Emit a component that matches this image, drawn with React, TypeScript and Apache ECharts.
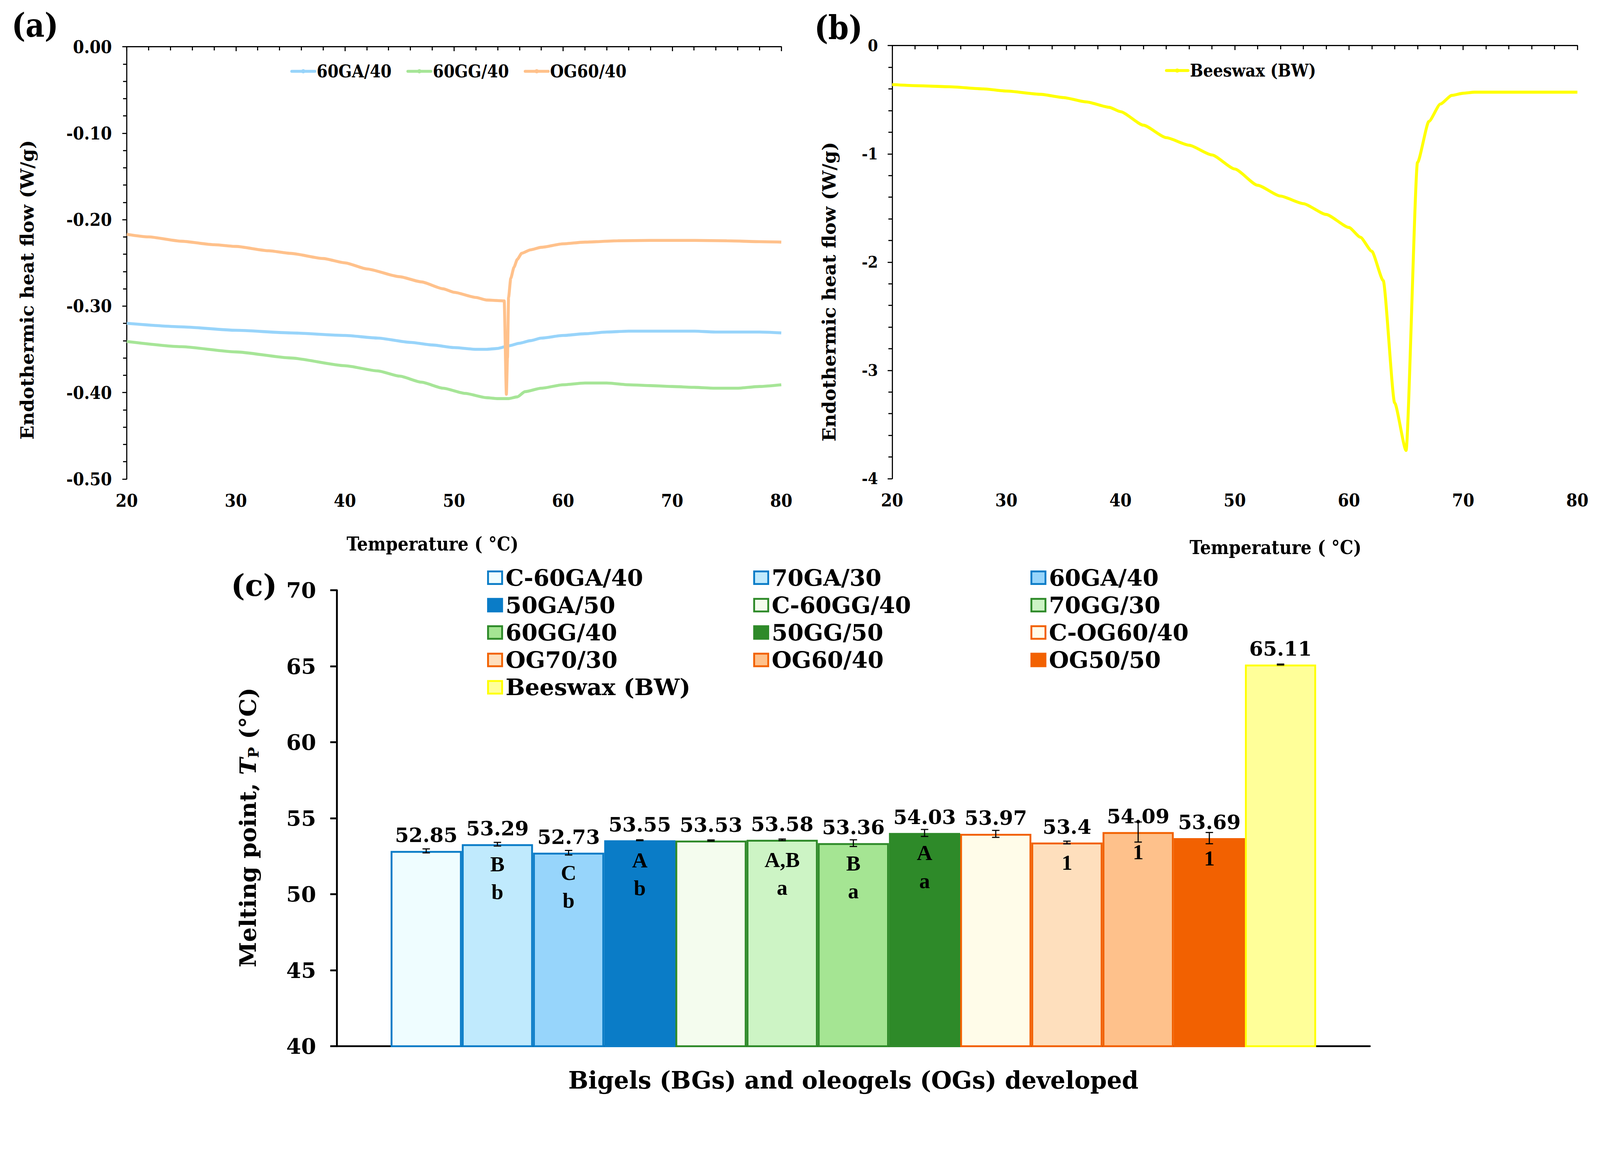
import React, { useEffect, useRef, useState } from 'react';
import * as echarts from 'echarts';

// ---------- Panel (a): DSC curves ----------
const tempGA = [20, 25, 30, 35, 40, 43, 46, 48, 50, 52, 53, 54, 55, 56, 57, 58, 60, 62, 64, 66, 70, 72, 74, 78, 80];
const flowGA = [-0.320, -0.324, -0.328, -0.331, -0.334, -0.337, -0.342, -0.345, -0.348, -0.350, -0.350, -0.349, -0.346, -0.343, -0.340, -0.337, -0.334, -0.332, -0.330, -0.329, -0.329, -0.329, -0.330, -0.330, -0.331];

const tempGG = [20, 25, 30, 35, 40, 43, 45, 47, 49, 51, 53, 54, 55, 55.8, 56.5, 58, 60, 62, 64, 66, 68, 70, 72, 74, 76, 78, 80];
const flowGG = [-0.341, -0.347, -0.353, -0.360, -0.369, -0.375, -0.381, -0.388, -0.395, -0.401, -0.406, -0.407, -0.407, -0.405, -0.399, -0.395, -0.391, -0.389, -0.389, -0.391, -0.392, -0.393, -0.394, -0.395, -0.395, -0.393, -0.391];

const tempOG = [20, 22, 25, 28, 30, 33, 35, 38, 40, 42, 45, 47, 49, 50, 52, 53, 54.6, 54.8, 54.9, 55.0, 55.2, 55.5, 55.8, 56.2, 57, 58, 60, 62, 65, 68, 72, 75, 78, 80];
const flowOG = [-0.217, -0.220, -0.225, -0.229, -0.231, -0.236, -0.239, -0.245, -0.250, -0.257, -0.266, -0.272, -0.280, -0.284, -0.290, -0.293, -0.294, -0.402, -0.360, -0.290, -0.268, -0.255, -0.246, -0.239, -0.235, -0.232, -0.228, -0.226, -0.2245, -0.224, -0.224, -0.2245, -0.2255, -0.226];

// ---------- Panel (b): beeswax ----------
const tempBW = [20, 22, 25, 28, 30, 33, 35, 37, 39, 40, 42, 44, 46, 48, 50, 52, 54, 56, 58, 60, 61, 62, 63, 64, 65, 66, 67, 68, 69, 70, 71, 75, 80];
const flowBW = [-0.36, -0.37, -0.38, -0.40, -0.42, -0.45, -0.48, -0.52, -0.57, -0.61, -0.735, -0.85, -0.92, -1.01, -1.14, -1.29, -1.39, -1.46, -1.56, -1.68, -1.77, -1.90, -2.17, -3.30, -3.74, -1.08, -0.70, -0.54, -0.46, -0.44, -0.43, -0.43, -0.43];

// ---------- Panel (c): melting points ----------
const gelNames = ['C-60GA/40', '70GA/30', '60GA/40', '50GA/50', 'C-60GG/40', '70GG/30', '60GG/40', '50GG/50', 'C-OG60/40', 'OG70/30', 'OG60/40', 'OG50/50', 'Beeswax (BW)'];
const meltPoints = [52.85, 53.29, 52.73, 53.55, 53.53, 53.58, 53.36, 54.03, 53.97, 53.4, 54.09, 53.69, 65.11];
const meltErrors = [0.13, 0.12, 0.15, 0.03, 0.04, 0.05, 0.22, 0.23, 0.23, 0.09, 0.66, 0.37, 0.03];
const upperLetters = ['', 'B', 'C', 'A', '', 'A,B', 'B', 'A', '', '1', '1', '1', ''];
const lowerLetters = ['', 'b', 'b', 'b', '', 'a', 'a', 'a', '', '', '', '', ''];

const fillColors = ['#effdff', '#c0eafd', '#97d5fb', '#0a7cc7', '#f4fcee', '#cdf4c5', '#a5e593', '#2e8a29', '#fffce9', '#fedfbd', '#fec18b', '#f26101', '#ffff99'];
const edgeColors = ['#0a7cc7', '#0a7cc7', '#0a7cc7', '#0a7cc7', '#2e8a29', '#2e8a29', '#2e8a29', '#2e8a29', '#f26101', '#f26101', '#f26101', '#f26101', '#ffff00'];

const FONT_WIDE = "'DejaVu Serif', serif";
const FONT_COND = "'DejaVu Serif Condensed', 'DejaVu Serif', serif";
const FONT_TIMES = "'Liberation Serif', serif";

const REF_W = 4317;
const REF_H = 2979;
const CAT_GAP = 0.104;

const zip = (xs: number[], ys: number[]) => xs.map((x, i) => [x, ys[i]]);

function buildOption(k: number) {
  const s = (v: number) => v * k;
  const condText = (size: number) => ({ fontFamily: FONT_COND, fontWeight: 'bold' as const, fontSize: s(size), color: '#000' });
  const wideText = (size: number) => ({ fontFamily: FONT_WIDE, fontWeight: 'bold' as const, fontSize: s(size), color: '#000' });

  const lineAxisCommon = {
    axisLine: { show: true, lineStyle: { color: '#000', width: s(3) } },
    axisTick: { show: true, inside: false, length: s(12), lineStyle: { color: '#000', width: s(3) } },
    minorTick: { show: true, splitNumber: 5, length: s(10), lineStyle: { color: '#000', width: s(3) } },
    splitLine: { show: false },
    minorSplitLine: { show: false },
  };

  const lineSeries = (name: string, xs: number[], ys: number[], color: string, axis: number) => ({
    name,
    type: 'line',
    xAxisIndex: axis,
    yAxisIndex: axis,
    data: zip(xs, ys),
    symbol: 'none',
    showSymbol: false,
    smooth: 0.2,
    smoothMonotone: 'x',
    lineStyle: { color, width: s(8) },
    itemStyle: { color },
    z: 3,
  });

  const barSeries = gelNames.map((name, i) => ({
    name,
    type: 'bar',
    xAxisIndex: 2,
    yAxisIndex: 2,
    data: [meltPoints[i]],
    barGap: '0%',
    barCategoryGap: `${CAT_GAP * 100}%`,
    itemStyle: { color: fillColors[i], borderColor: edgeColors[i], borderWidth: s(5) },
    label: {
      show: true,
      position: 'top',
      distance: s(16),
      formatter: () => String(meltPoints[i]),
      ...wideText(54),
    },
    z: 2,
  }));

  const annotSeries = {
    name: 'annotations',
    type: 'custom',
    xAxisIndex: 2,
    yAxisIndex: 2,
    coordinateSystem: 'cartesian2d',
    clip: false,
    z: 5,
    encode: { x: 0, y: 1 },
    data: meltPoints.map((v, i) => [0, v, meltErrors[i], i]),
    renderItem: (params: any, api: any) => {
      const idx = api.value(3);
      const val = api.value(1);
      const err = api.value(2);
      const band = api.size([1, 0])[0];
      const total = band * (1 - CAT_GAP);
      const bw = total / gelNames.length;
      const c = api.coord([0, val]);
      const x = c[0] - total / 2 + (idx + 0.5) * bw;
      const yTop = api.coord([0, val + err])[1];
      const yBot = api.coord([0, val - err])[1];
      const cap = s(10);
      const stroke = { stroke: '#000', lineWidth: s(3) };
      const children: any[] = [
        { type: 'line', shape: { x1: x, y1: yTop, x2: x, y2: yBot }, style: stroke },
        { type: 'line', shape: { x1: x - cap, y1: yTop, x2: x + cap, y2: yTop }, style: stroke },
        { type: 'line', shape: { x1: x - cap, y1: yBot, x2: x + cap, y2: yBot }, style: stroke },
      ];
      const letterStyle = { align: 'center', verticalAlign: 'middle', fontFamily: FONT_TIMES, fontWeight: 'bold', fontSize: s(58), fill: '#000' };
      const up = upperLetters[idx];
      const low = lowerLetters[idx];
      if (up) {
        children.push({ type: 'text', style: { text: up, x, y: c[1] + s(54), ...letterStyle } });
      }
      if (low) {
        children.push({ type: 'text', style: { text: low, x, y: c[1] + s(129), ...letterStyle } });
      }
      return { type: 'group', children };
    },
  };

  const legendCol = (left: number, idxs: number[]) => ({
    orient: 'vertical',
    left: s(left),
    top: s(1522),
    itemGap: s(11.7),
    itemWidth: s(38),
    itemHeight: s(34),
    icon: 'rect',
    textStyle: { ...wideText(62), lineHeight: s(62), padding: [0, 0, 0, s(4)] },
    data: idxs.map((i) => ({
      name: gelNames[i],
      itemStyle: { color: fillColors[i], borderColor: edgeColors[i], borderWidth: s(5) },
    })),
    selectedMode: false,
  });

  return {
    animation: false,
    backgroundColor: '#ffffff',
    title: [
      { text: '(a)', left: s(26), top: s(20), textStyle: condText(88) },
      { text: '(b)', left: s(2192), top: s(26), textStyle: condText(88) },
      { text: '(c)', left: s(618), top: s(1534), textStyle: wideText(80) },
    ],
    legend: [
      {
        left: s(778),
        top: s(162),
        itemWidth: s(62),
        itemHeight: s(14),
        itemGap: s(40),
        lineStyle: { width: s(8), cap: 'round' },
        textStyle: { ...condText(47), lineHeight: s(50) },
        data: ['60GA/40', '60GG/40', 'OG60/40'],
        selectedMode: false,
      },
      {
        left: s(3138),
        top: s(160),
        itemWidth: s(58),
        itemHeight: s(14),
        lineStyle: { width: s(8), cap: 'round' },
        textStyle: { ...condText(47), lineHeight: s(50) },
        data: ['Beeswax (BW)'],
        selectedMode: false,
      },
      legendCol(1309, [0, 3, 6, 9, 12]),
      legendCol(2027, [1, 4, 7, 10]),
      legendCol(2775, [2, 5, 8, 11]),
    ],
    grid: [
      { left: s(342), top: s(126), width: s(1766), height: s(1166), containLabel: false },
      { left: s(2407), top: s(123), width: s(1849), height: s(1168), containLabel: false },
      { left: s(909), top: s(1592), width: s(2787), height: s(1230), containLabel: false },
    ],
    xAxis: [
      {
        gridIndex: 0,
        type: 'value',
        min: 20,
        max: 80,
        interval: 10,
        ...lineAxisCommon,
        axisLabel: { ...condText(48), margin: s(34) },
        name: 'Temperature ( °C)',
        nameLocation: 'middle',
        nameGap: s(150),
        nameTextStyle: { ...condText(51), padding: [0, s(116), 0, 0] },
      },
      {
        gridIndex: 1,
        type: 'value',
        min: 20,
        max: 80,
        interval: 10,
        ...lineAxisCommon,
        axisLabel: { ...condText(48), margin: s(34) },
        name: 'Temperature ( °C)',
        nameLocation: 'middle',
        nameGap: s(160),
        nameTextStyle: { ...condText(51), padding: [0, 0, 0, s(220)] },
      },
      {
        gridIndex: 2,
        type: 'category',
        data: ['Gels'],
        axisLine: { show: true, lineStyle: { color: '#000', width: s(5) } },
        axisTick: { show: false },
        axisLabel: { show: false },
        splitLine: { show: false },
        name: 'Bigels (BGs) and oleogels (OGs) developed',
        nameLocation: 'middle',
        nameGap: s(60),
        nameTextStyle: wideText(64),
      },
    ],
    yAxis: [
      {
        gridIndex: 0,
        type: 'value',
        min: -0.5,
        max: 0,
        interval: 0.1,
        ...lineAxisCommon,
        axisLabel: { ...condText(48), margin: s(40), formatter: (v: number) => (Math.abs(v) < 1e-9 ? '0.00' : v.toFixed(2)) },
        name: 'Endothermic heat flow (W/g)',
        nameLocation: 'middle',
        nameGap: s(245),
        nameTextStyle: { ...wideText(50), padding: [0, s(146), 0, 0] },
      },
      {
        gridIndex: 1,
        type: 'value',
        min: -4,
        max: 0,
        interval: 1,
        ...lineAxisCommon,
        axisLabel: { ...condText(44), margin: s(38), formatter: (v: number) => (Math.abs(v) < 1e-9 ? '0' : String(v)) },
        name: 'Endothermic heat flow (W/g)',
        nameLocation: 'middle',
        nameGap: s(146),
        nameTextStyle: { ...wideText(50), padding: [0, s(160), 0, 0] },
      },
      {
        gridIndex: 2,
        type: 'value',
        min: 40,
        max: 70,
        interval: 5,
        axisLine: { show: true, lineStyle: { color: '#000', width: s(5) } },
        axisTick: { show: true, inside: false, length: s(18), lineStyle: { color: '#000', width: s(5) } },
        splitLine: { show: false },
        axisLabel: { ...wideText(58), margin: s(56) },
        name: 'Melting point, {i|T}{s|P} (°C)',
        nameLocation: 'middle',
        nameGap: s(205),
        nameTextStyle: {
          ...wideText(62),
          padding: [0, s(50), 0, 0],
          rich: {
            i: { ...wideText(62), fontStyle: 'italic' },
            s: { ...wideText(39), padding: [s(31), 0, 0, 0] },
          },
        },
      },
    ],
    series: [
      lineSeries('60GA/40', tempGA, flowGA, '#98d4fa', 0),
      lineSeries('60GG/40', tempGG, flowGG, '#a6e597', 0),
      lineSeries('OG60/40', tempOG, flowOG, '#ffc18b', 0),
      lineSeries('Beeswax (BW)', tempBW, flowBW, '#ffff00', 1),
      ...barSeries,
      annotSeries,
    ],
  };
}

export default function App() {
  const ref = useRef<HTMLDivElement>(null);
  const [k] = useState(() => {
    if (typeof window === 'undefined') return 1;
    const kw = window.innerWidth / REF_W;
    const kh = window.innerHeight / REF_H;
    const v = Math.min(kw, kh);
    return v > 0 ? v : 1;
  });
  useEffect(() => {
    document.body.style.margin = '0';
    document.body.style.overflow = 'hidden';
    const chart = echarts.init(ref.current as HTMLDivElement, null, { renderer: 'svg' });
    chart.setOption(buildOption(k) as any);
    return () => chart.dispose();
  }, [k]);
  return <div ref={ref} style={{ width: REF_W * k, height: REF_H * k, background: '#fff' }} />;
}
